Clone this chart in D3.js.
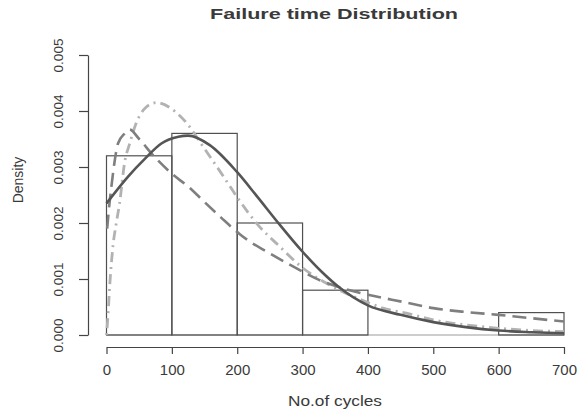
<!DOCTYPE html>
<html>
<head>
<meta charset="utf-8">
<script src="https://cdn.jsdelivr.net/npm/d3@7"></script>
<style>
  body { margin: 0; background: white; }
  text { font-family: "Liberation Sans", Arial, Helvetica, sans-serif; fill: #3a3a3a; }
</style>
</head>
<body>
<svg id="chart" width="580" height="410"></svg>
<script>
// histogram bins
const binEdges = [0, 100, 200, 300, 400, 500, 600, 700];
const binDensity = [0.0032, 0.0036, 0.0020, 0.0008, 0, 0, 0.0004];

// axis ticks
const xTicks = [0, 100, 200, 300, 400, 500, 600, 700];
const yTicks = [0, 0.001, 0.002, 0.003, 0.004, 0.005];

// fitted density curves as [cycles, density]
const solidCurve = [[0, 0.00235], [33, 0.00283], [59, 0.00315], [84, 0.00342], [110, 0.00354],
  [125, 0.00356], [158, 0.00339], [199, 0.00292], [230, 0.00248], [265, 0.00197],
  [299, 0.0015], [330, 0.00112], [354, 0.00087], [400, 0.00053], [450, 0.00036],
  [500, 0.00023], [550, 0.00014], [600, 0.00008], [650, 0.00005], [700, 0.00003]];
const dashedCurve = [[1, 0.0019], [5, 0.0024], [7.5, 0.00265], [10, 0.00289], [17.6, 0.00342],
  [28, 0.0036], [35, 0.00367], [50, 0.0035], [72, 0.0032], [100, 0.00288], [128, 0.00262],
  [145, 0.00243], [175, 0.0021], [204, 0.0018], [219, 0.00167], [245, 0.00149],
  [286, 0.00122], [326, 0.00098], [372, 0.0008], [400, 0.00072], [454, 0.00059],
  [500, 0.00048], [550, 0.00041], [600, 0.00036], [650, 0.0003], [700, 0.00024]];
const dashDotCurve = [[0, 0], [2, 0.0003], [5, 0.0009], [10, 0.0016], [15, 0.002], [20, 0.00235],
  [28, 0.0031], [35, 0.0034], [46, 0.0038], [59, 0.00405], [77, 0.00415], [105, 0.00399],
  [123, 0.00378], [148, 0.00336], [179, 0.00283], [200, 0.00246], [230, 0.00199],
  [265, 0.00158], [300, 0.0012], [342, 0.00089], [400, 0.00058], [423, 0.00048],
  [459, 0.00039], [500, 0.00027], [550, 0.00018], [600, 0.00012], [650, 0.00008],
  [700, 0.00006]];

const svg = d3.select("#chart");

const x = d3.scaleLinear().domain([0, 700]).range([106.5, 564]);
const y = d3.scaleLinear().domain([0, 0.005]).range([335, 55]);

// histogram
const bins = binDensity.map((d, i) => ({ x0: binEdges[i], x1: binEdges[i + 1], d: d }));

svg.append("line")
    .attr("x1", x(0)).attr("x2", x(700))
    .attr("y1", y(0)).attr("y2", y(0))
    .attr("stroke", "#bdbdbd")
    .attr("stroke-width", 1.5);

svg.selectAll("rect.bin")
    .data(bins.filter(b => b.d > 0))
    .join("rect")
    .attr("class", "bin")
    .attr("x", b => x(b.x0))
    .attr("y", b => y(b.d))
    .attr("width", b => x(b.x1) - x(b.x0))
    .attr("height", b => y(0) - y(b.d))
    .attr("fill", "none")
    .attr("stroke", "#505050")
    .attr("stroke-width", 1.2);

// density curves
const line = d3.line()
    .x(d => x(d[0]))
    .y(d => y(d[1]))
    .curve(d3.curveMonotoneX);

const curves = [
    { pts: dashDotCurve, color: "#b2b2b2", dash: "2,5,10,5", width: 2.8 },
    { pts: dashedCurve, color: "#7f7f7f", dash: "14,7", width: 2.6 },
    { pts: solidCurve, color: "#555555", dash: null, width: 2.6 }
];

curves.forEach(c => {
    svg.append("path")
        .datum(c.pts)
        .attr("d", line)
        .attr("fill", "none")
        .attr("stroke", c.color)
        .attr("stroke-width", c.width)
        .attr("stroke-dasharray", c.dash);
});

// axes
const yAxis = svg.append("g")
    .attr("transform", "translate(88,0)")
    .call(d3.axisLeft(y).tickValues(yTicks).tickSize(9).tickSizeOuter(0)
        .tickFormat(d3.format(".3f")));
yAxis.selectAll("path, line").attr("stroke", "#444").attr("stroke-width", 1.2);
yAxis.selectAll("text")
    .attr("x", null).attr("dy", null)
    .attr("transform", "translate(-25,0) rotate(-90)")
    .attr("text-anchor", "middle")
    .style("font-size", "13.5px");

const xAxis = svg.append("g")
    .attr("transform", "translate(0,347)")
    .call(d3.axisBottom(x).tickValues(xTicks).tickSize(7).tickSizeOuter(0));
xAxis.selectAll("path, line").attr("stroke", "#444").attr("stroke-width", 1.2);
xAxis.selectAll("text")
    .attr("y", 28).attr("dy", null)
    .style("font-size", "15px");

// titles
svg.append("text")
    .attr("x", 334).attr("y", 19)
    .attr("text-anchor", "middle")
    .attr("textLength", 248)
    .attr("lengthAdjust", "spacingAndGlyphs")
    .style("font-size", "15px")
    .style("font-weight", "bold")
    .text("Failure time Distribution");

svg.append("text")
    .attr("x", 335).attr("y", 406)
    .attr("text-anchor", "middle")
    .attr("textLength", 94)
    .attr("lengthAdjust", "spacingAndGlyphs")
    .style("font-size", "15px")
    .text("No.of cycles");

svg.append("text")
    .attr("transform", "translate(23,180) rotate(-90)")
    .attr("text-anchor", "middle")
    .style("font-size", "14px")
    .text("Density");
</script>
</body>
</html>
